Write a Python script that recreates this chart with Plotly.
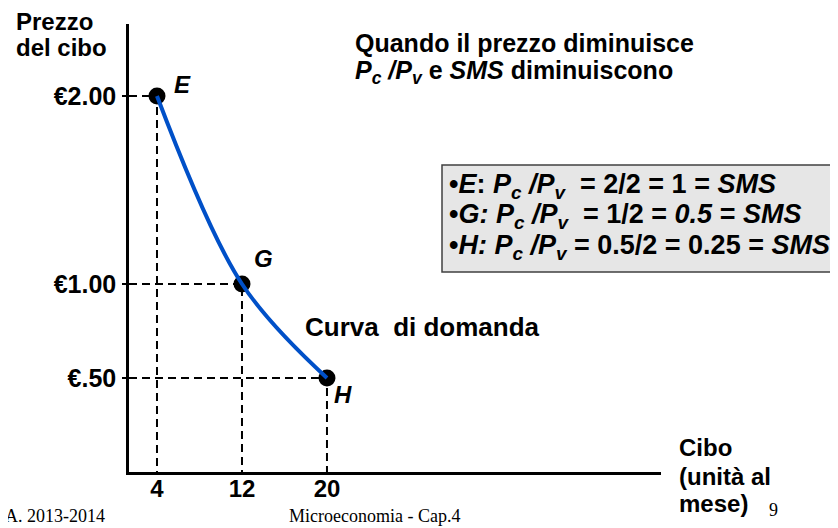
import plotly.graph_objects as go

# Curva di domanda: quantità di cibo e prezzo nei tre punti
cibo = [4, 12, 20]
prezzo = [2.00, 1.00, 0.50]
punti = ["E", "G", "H"]

prezzo_ticks = [0.50, 1.00, 2.00]
prezzo_labels = ["€.50", "€1.00", "€2.00"]
cibo_ticks = [4, 12, 20]

titolo = ["Quando il prezzo diminuisce",
          "<i>P<sub>c</sub> /P<sub>v</sub></i> e <i>SMS</i> diminuiscono"]
riquadro = [
    "•<i>E</i>: <i>P<sub>c</sub> /P<sub>v</sub></i>&nbsp; = 2/2 = 1 = <i>SMS</i>",
    "•<i>G: P<sub>c</sub> /P<sub>v</sub></i>&nbsp; = 1/2 = <i>0.5</i> = <i>SMS</i>",
    "•<i>H: P<sub>c</sub> /P<sub>v</sub></i> = 0.5/2 = 0.25 = <i>SMS</i>",
]
asse_y = ["Prezzo", "del cibo"]
asse_x = ["Cibo", "(unità al", "mese)"]

# la pagina html ha un margine di 8px: la figura è 830x520
W, H = 830, 520
x_min, x_max = 1.365, 51.44
y_min, y_max = 0, 2.383


def px(x):
    return x / W


def py(y):
    return 1 - y / H


SANS = "Liberation Sans, Arial, sans-serif"
SERIF = "Liberation Serif, Times New Roman, serif"


def bold(s):
    return dict(family=SANS, size=s, color="black", weight="bold")


fig = go.Figure()

# linee tratteggiate verso gli assi
for xi, yi in zip(cibo, prezzo):
    fig.add_trace(go.Scatter(
        x=[x_min, xi, xi], y=[yi, yi, y_min], mode="lines",
        line=dict(color="black", width=2, dash="8px,5px"),
        hoverinfo="skip"))

# punti E, G, H
fig.add_trace(go.Scatter(x=cibo, y=prezzo, mode="markers",
                         marker=dict(color="black", size=17)))

# curva di domanda
fig.add_trace(go.Scatter(x=cibo, y=prezzo, mode="lines",
                         line=dict(color="#0050c8", width=4, shape="spline", smoothing=1)))

fig.update_layout(
    width=W, height=H,
    margin=dict(l=0, r=0, t=0, b=0),
    paper_bgcolor="white", plot_bgcolor="white",
    showlegend=False,
    xaxis=dict(domain=[px(121), px(653)], range=[x_min, x_max],
               showline=True, linecolor="black", linewidth=3,
               showgrid=False, zeroline=False,
               tickvals=cibo_ticks, ticks="", ticklen=0,
               ticklabelstandoff=-7, tickfont=bold(24)),
    yaxis=dict(domain=[py(464), py(16)], range=[y_min, y_max],
               showline=True, linecolor="black", linewidth=2.5,
               showgrid=False, zeroline=False,
               tickvals=prezzo_ticks, ticktext=prezzo_labels,
               ticks="outside", ticklen=4, tickwidth=2, tickcolor="black",
               ticklabelstandoff=1, tickfont=bold(25)),
)

# riquadro grigio
fig.add_shape(type="rect", xref="paper", yref="paper",
              x0=px(434), x1=px(832), y0=py(264), y1=py(157),
              fillcolor="#e6e6e6", line=dict(color="#404040", width=1.5),
              layer="below")


def testo(t, x, y, font, anchor="left"):
    fig.add_annotation(text=t, xref="paper", yref="paper", x=px(x), y=py(y),
                       xanchor=anchor, yanchor="middle", align="left",
                       showarrow=False, font=font)


for riga, y in zip(asse_y, [13, 40]):
    testo(riga, 6, y, bold(24))
for riga, y in zip(titolo, [35, 64]):
    testo(riga, 345, y, bold(25))
for riga, y in zip(riquadro, [178, 208, 239]):
    testo(riga, 439, y, bold(27))
testo("Curva&nbsp; di domanda", 295, 319, bold(26))
for riga, y in zip(asse_x, [439, 468, 495]):
    testo(riga, 669, y, bold(24))

serif = dict(family=SERIF, size=18, color="black")
testo("A. 2013-2014", -5, 508, serif)
testo("Microeconomia - Cap.4", 366, 508, serif, anchor="center")
testo("9", 759, 502, serif)

# etichette dei punti
offsets = {"E": (26, 12), "G": (22, 26), "H": (16, -16)}
for xi, yi, nome in zip(cibo, prezzo, punti):
    dx, dy = offsets[nome]
    fig.add_annotation(x=xi, y=yi, text="<i>" + nome + "</i>", showarrow=False,
                       xshift=dx, yshift=dy, font=bold(24))

fig.write_html("out.html")
